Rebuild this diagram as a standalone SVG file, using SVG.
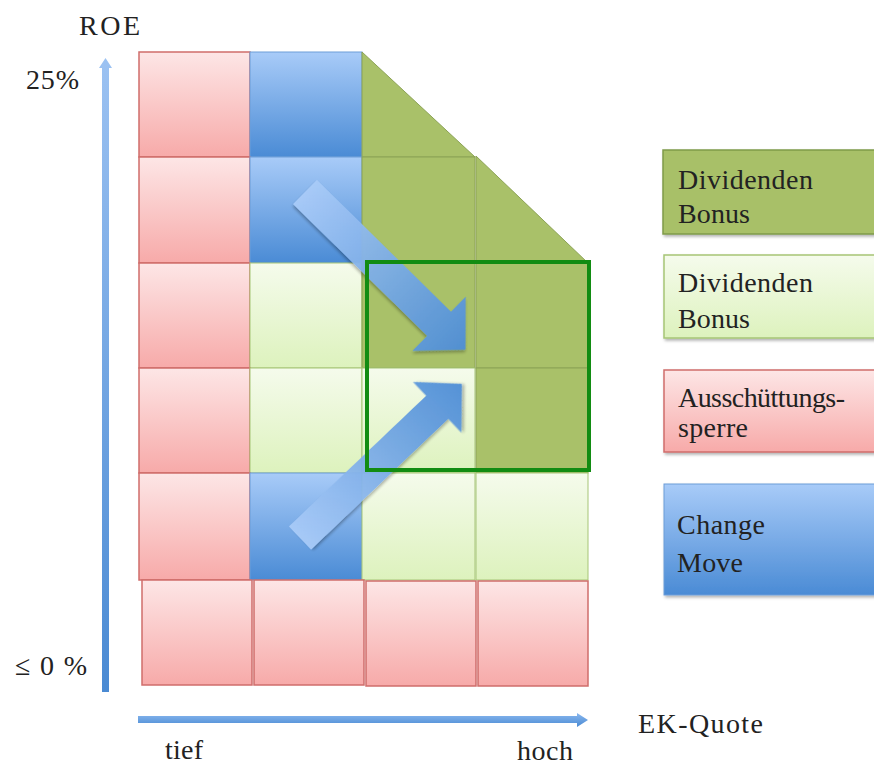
<svg xmlns="http://www.w3.org/2000/svg" width="874" height="766" viewBox="0 0 874 766">
<defs>
<linearGradient id="gRed" x1="0" y1="0" x2="0" y2="1"><stop offset="0" stop-color="#fde6e6"/><stop offset="1" stop-color="#f7aaa9"/></linearGradient>
<linearGradient id="gBlue" x1="0" y1="0" x2="0" y2="1"><stop offset="0" stop-color="#a8cbf8"/><stop offset="1" stop-color="#4a8bd5"/></linearGradient>
<linearGradient id="gLight" x1="0" y1="0" x2="0" y2="1"><stop offset="0" stop-color="#f5fbec"/><stop offset="1" stop-color="#ddf2bd"/></linearGradient>
<linearGradient id="gArrow" x1="0" y1="0" x2="1" y2="0"><stop offset="0" stop-color="#a9cbf8"/><stop offset="1" stop-color="#4d8dd6"/></linearGradient>
<linearGradient id="gAxisV" x1="0" y1="0" x2="0" y2="1"><stop offset="0" stop-color="#9cc2f2"/><stop offset="1" stop-color="#4a8ad3"/></linearGradient>
<linearGradient id="gAxisH" x1="0" y1="0" x2="0" y2="1"><stop offset="0" stop-color="#8ab8ef"/><stop offset="1" stop-color="#4a8ad3"/></linearGradient>
<filter id="sh" x="-10%" y="-10%" width="130%" height="130%"><feDropShadow dx="1.5" dy="2" stdDeviation="1.8" flood-color="#000" flood-opacity="0.3"/></filter>
</defs>
<style>
.red{fill:url(#gRed);stroke:#cf6d6b;stroke-width:1.5}
.blue{fill:url(#gBlue);stroke:#6d9dd8;stroke-width:1}
.light{fill:url(#gLight);stroke:#a6c576;stroke-width:1}
.dark{fill:#a9c169;stroke:#8ca356;stroke-width:1}
.lbl{font-family:"Liberation Serif","Times New Roman",serif;font-size:28px;fill:#222}
.arr{fill:url(#gArrow);opacity:0.95;filter:url(#sh)}
</style>
<rect width="874" height="766" fill="#fff"/>

<g id="cells">
<g id="r0c0"><rect class="red" x="139" y="52" width="111" height="105"/></g>
<g id="r0c1"><rect class="blue" x="250" y="52" width="112" height="105"/></g>
<g id="r0c2"><polygon class="dark" points="362,52 475,157 362,157"/></g>
<g id="r1c0"><rect class="red" x="139" y="157" width="111" height="106"/></g>
<g id="r1c1"><rect class="blue" x="250" y="157" width="112" height="106"/></g>
<g id="r1c2"><rect class="dark" x="362" y="157" width="113" height="106"/></g>
<g id="r1c3"><polygon class="dark" points="476,156 588,263 476,263"/></g>
<g id="r2c0"><rect class="red" x="139" y="263" width="111" height="105"/></g>
<g id="r2c1"><rect class="light" x="250" y="263" width="112" height="105"/></g>
<g id="r2c2"><rect class="dark" x="362" y="263" width="113" height="105"/></g>
<g id="r2c3"><rect class="dark" x="476" y="263" width="112" height="105"/></g>
<g id="r3c0"><rect class="red" x="139" y="368" width="111" height="105"/></g>
<g id="r3c1"><rect class="light" x="250" y="368" width="112" height="105"/></g>
<g id="r3c2"><rect class="light" x="362" y="368" width="113" height="105"/></g>
<g id="r3c3"><rect class="dark" x="476" y="368" width="112" height="105"/></g>
<g id="r4c0"><rect class="red" x="139" y="473" width="111" height="107"/></g>
<g id="r4c1"><rect class="blue" x="250" y="473" width="112" height="107"/></g>
<g id="r4c2"><rect class="light" x="362" y="473" width="113" height="107"/></g>
<g id="r4c3"><rect class="light" x="476" y="473" width="112" height="107"/></g>
<g id="r5c0"><rect class="red" x="142" y="580" width="110" height="105"/></g>
<g id="r5c1"><rect class="red" x="254" y="580" width="110" height="105"/></g>
<g id="r5c2"><rect class="red" x="366" y="581" width="110" height="105"/></g>
<g id="r5c3"><rect class="red" x="478" y="581" width="110" height="105"/></g>
</g>

<g id="connectors">
<polygon class="arr" transform="translate(305,192) rotate(44.5)" points="0,-17 188,-17 188,-38 225,0 188,38 188,17 0,17"/>
<polygon class="arr" transform="translate(300,538) rotate(-43.6)" points="0,-16 189.5,-16 189.5,-35 223.5,0 189.5,35 189.5,16 0,16"/>
<polygon fill="url(#gAxisV)" points="102,692 102,68 99,68 105.5,58 112,68 109,68 109,692"/>
<polygon fill="url(#gAxisH)" points="138,716 577,716 577,713 588,720 577,727 577,723 138,723"/>
</g>

<g id="highlight"><rect x="367" y="262" width="222" height="208" fill="none" stroke="#128c12" stroke-width="4"/></g>

<g id="legend-dark"><rect x="663" y="150" width="220" height="84" fill="#a8c067" stroke="#7f9a4a" stroke-width="1.5" filter="url(#sh)"/>
<text class="lbl" x="678" y="189" textLength="135">Dividenden</text><text class="lbl" x="678" y="223" textLength="72">Bonus</text></g>
<g id="legend-light"><rect x="664" y="255" width="220" height="83" fill="url(#gLight)" stroke="#a6c576" stroke-width="1.5" filter="url(#sh)"/>
<text class="lbl" x="678" y="292" textLength="135">Dividenden</text><text class="lbl" x="678" y="328" textLength="72">Bonus</text></g>
<g id="legend-red"><rect x="664" y="370" width="220" height="82" fill="url(#gRed)" stroke="#cf6d6b" stroke-width="1.5" filter="url(#sh)"/>
<text class="lbl" x="678" y="407" textLength="167">Ausschüttungs-</text><text class="lbl" x="678" y="437" textLength="70">sperre</text></g>
<g id="legend-blue"><rect x="664" y="484" width="220" height="111" fill="url(#gBlue)" stroke="#6d9dd8" stroke-width="1" filter="url(#sh)"/>
<text class="lbl" x="677" y="534" textLength="88">Change</text><text class="lbl" x="677" y="572" textLength="66">Move</text></g>

<g id="axis-labels">
<text class="lbl" x="79" y="35" textLength="61">ROE</text>
<text class="lbl" x="26" y="89" textLength="53">25%</text>
<text class="lbl" x="15" y="675" textLength="72">≤ 0 %</text>
<text class="lbl" x="165" y="759" textLength="38">tief</text>
<text class="lbl" x="517" y="760" textLength="56">hoch</text>
<text class="lbl" x="638" y="733" textLength="125">EK-Quote</text>
</g>
</svg>
